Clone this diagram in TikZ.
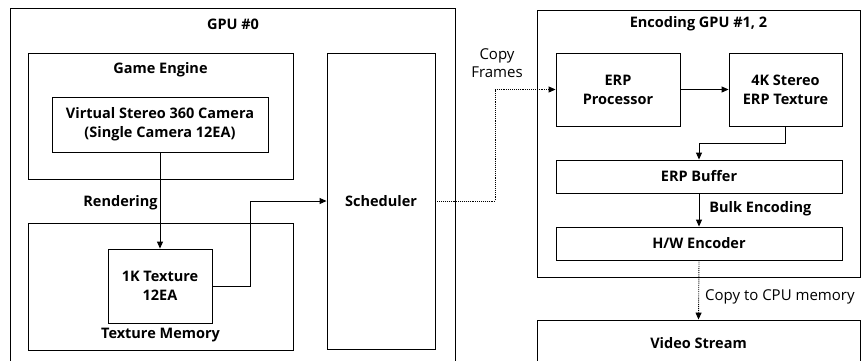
\documentclass[tikz,border=0pt]{standalone}
\usepackage{fontspec}
\setmainfont{Open Sans}
\usetikzlibrary{arrows.meta,positioning}

\begin{document}
\begin{tikzpicture}[x=1pt,y=-1pt,
  gpubox/.style={draw,line width=0.9pt,inner sep=0pt},
  blk/.style={draw,line width=0.9pt,align=center,inner sep=0pt,
    font=\bfseries\fontsize{14.5}{19}\selectfont},
  lbl/.style={inner sep=0pt,font=\bfseries\fontsize{14.5}{19}\selectfont},
  note/.style={inner sep=0pt,align=center,font=\fontsize{15}{18}\selectfont},
  flow/.style={-{Triangle[length=7pt,width=6pt]},line width=0.9pt},
  copyflow/.style={flow,densely dotted}
]
  \useasboundingbox (0,0) rectangle (862,360);
  % GPU #0
  \node[gpubox,minimum width=445pt,minimum height=372pt] (gpu0) at (232.5,194) {};
  \node[lbl] (gpu0lbl) at (233,24) {GPU \#0};
  \node[gpubox,minimum width=265pt,minimum height=126pt] (engine) at (160.5,116) {};
  \node[lbl] (enginelbl) at (160.5,70) {Game Engine};
  \node[blk,minimum width=216pt,minimum height=55pt] (camera) at (160,124.5)
    {Virtual Stereo 360 Camera\\(Single Camera 12EA)};
  \node[gpubox,minimum width=265pt,minimum height=127pt] (texmem) at (160.5,286.5) {};
  \node[lbl] (texmemlbl) at (160.5,335) {Texture Memory};
  \node[blk,minimum width=104pt,minimum height=74pt] (tex1k) at (160,286) {1K Texture\\12EA};
  \node[blk,minimum width=108pt,minimum height=296pt] (sched) at (381,201) {Scheduler};
  % Encoding GPU #1, 2
  \node[gpubox,minimum width=323pt,minimum height=267pt] (encgpu) at (698.5,143.5) {};
  \node[lbl] (encgpulbl) at (698.5,24) {Encoding GPU \#1, 2};
  \node[blk,minimum width=124pt,minimum height=73pt] (erpproc) at (618,89.5) {ERP\\Processor};
  \node[blk,minimum width=113pt,minimum height=73pt] (stereo) at (785.5,89.5) {4K Stereo\\ERP Texture};
  \node[blk,minimum width=286pt,minimum height=33pt] (buffer) at (699,176.5) {ERP Buffer};
  \node[blk,minimum width=286pt,minimum height=33pt] (encoder) at (699,243.5) {H/W Encoder};
  % output
  \node[gpubox,minimum width=323pt,minimum height=80pt] (stream) at (698.5,360) {};
  \node[lbl] (streamlbl) at (698.5,343) {Video Stream};
  % connectors
  \draw[flow] (camera.south) -- node[lbl,anchor=east,pos=0.52,xshift=-2pt] {Rendering} (tex1k.north);
  \draw[flow] (tex1k.east) -- ++(38,0) |- (sched.west);
  \draw[copyflow] (sched.east) -- ++(60,0) |- (erpproc.west);
  \node[note] (copylbl) at (497,63) {Copy\\Frames};
  \draw[flow] (erpproc.east) -- (stereo.west);
  \draw[flow] (stereo.south) -- ++(0,17) -| (buffer.north);
  \draw[flow] (buffer.south) -- node[lbl,anchor=west,pos=0.47,xshift=10pt] {Bulk Encoding} (encoder.north);
  \draw[copyflow] (encoder.south) -- node[note,anchor=west,pos=0.62,xshift=6pt] {Copy to CPU memory} (stream.north);
\end{tikzpicture}
\end{document}
